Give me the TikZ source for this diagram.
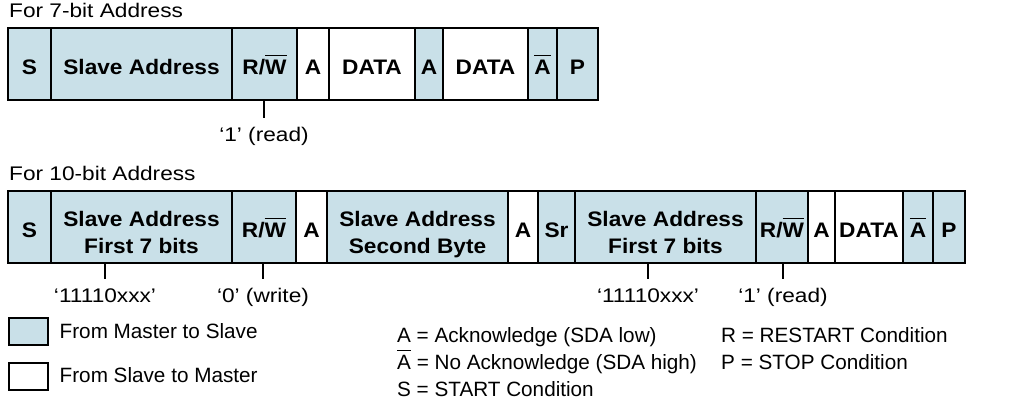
\documentclass[tikz,border=0pt]{standalone}
\usepackage{fontspec}
\setmainfont{Liberation Sans}
\newfontfamily\widesf{Liberation Sans}[FakeStretch=1.15]
\newfontfamily\boxsf{Liberation Sans}[FakeStretch=1.08]
\definecolor{msblue}{RGB}{201,224,232}
\newsavebox\ovlbox
\newcommand{\ovl}[1]{\sbox\ovlbox{#1}\rlap{\rule[0.86em]{\wd\ovlbox}{0.075em}}\usebox\ovlbox}
\newcommand{\twoline}[2]{\rule{0pt}{32.5pt}#1\\#2\rule[-6pt]{0pt}{6pt}}
\tikzset{
  fld/.style={draw, line width=2pt, minimum height=72pt, inner sep=0pt, align=center,
    font=\boxsf\bfseries\fontsize{21}{27.5}\selectfont},
  oneln/.style={text height=21pt, text depth=0pt},
  ms/.style={fld, fill=msblue},
  sm/.style={fld, fill=white},
  hint/.style={inner sep=0pt, text height=14.2pt, text depth=0pt,
    font=\widesf\fontsize{19.7}{24}\selectfont},
  legtxt/.style={inner sep=0pt, anchor=west, text height=14.9pt, text depth=0pt,
    font=\fontsize{20.7}{25}\selectfont},
  legbox/.style={draw, line width=2pt, minimum width=39pt, minimum height=27pt, inner sep=0pt},
  tickln/.style={line width=2pt, shorten >=9pt},
}
\begin{document}
\begin{tikzpicture}[x=1pt,y=-1pt]
\useasboundingbox (0,0) rectangle (1025,403);

% 7-bit address
\node [hint, anchor=west] (t7) at (9,10.8) {For 7-bit Address};
\node [ms, oneln, minimum width=43] (s1) at (29.5,64) {S};
\node [ms, oneln, minimum width=181] (addr1) at (141.5,64) {Slave Address};
\node [ms, oneln, minimum width=65] (rw1) at (264.5,64) {R/\ovl{W}};
\node [sm, oneln, minimum width=32] (ack1) at (313,64) {A};
\node [sm, oneln, minimum width=86] (data1) at (372,64) {DATA};
\node [ms, oneln, minimum width=28] (ack2) at (429,64) {A};
\node [sm, oneln, minimum width=85] (data2) at (485.5,64) {DATA};
\node [ms, oneln, minimum width=29] (nack1) at (542.5,64) {\ovl{A}};
\node [ms, oneln, minimum width=41] (p1) at (577.5,64) {P};
\node [hint, anchor=north] (rd1) at (264,127) {‘1’ (read)};
\draw [tickln] (rw1.south -| rd1.north) -- (rd1.north);

% 10-bit address
\node [hint, anchor=west] (t10) at (9,173.7) {For 10-bit Address};
\node [ms, oneln, minimum width=43] (s2) at (29.5,227) {S};
\node [ms, minimum width=181] (hi2) at (141.5,227) {\twoline{Slave Address}{First 7 bits}};
\node [ms, oneln, minimum width=64] (rw2) at (264,227) {R/\ovl{W}};
\node [sm, oneln, minimum width=31] (ack3) at (311.5,227) {A};
\node [ms, minimum width=181] (lo2) at (417.5,227) {\twoline{Slave Address}{Second Byte}};
\node [sm, oneln, minimum width=30] (ack4) at (523,227) {A};
\node [ms, oneln, minimum width=37] (sr2) at (556.5,227) {Sr};
\node [ms, minimum width=181] (hi3) at (665.5,227) {\twoline{Slave Address}{First 7 bits}};
\node [ms, oneln, minimum width=52] (rw3) at (782,227) {R/\ovl{W}};
\node [sm, oneln, minimum width=27] (ack5) at (821.5,227) {A};
\node [sm, oneln, minimum width=68] (data3) at (869,227) {DATA};
\node [ms, oneln, minimum width=30] (nack2) at (918,227) {\ovl{A}};
\node [ms, oneln, minimum width=32] (p2) at (949,227) {P};

\node [hint, anchor=north] (hb1) at (105,288.5) {‘11110xxx’};
\node [hint, anchor=north] (wr2) at (263,288.5) {‘0’ (write)};
\node [hint, anchor=north] (hb2) at (648,288.5) {‘11110xxx’};
\node [hint, anchor=north] (rd2) at (783,288.5) {‘1’ (read)};
\draw [tickln] (hi2.south -| hb1.north) -- (hb1.north);
\draw [tickln] (rw2.south -| wr2.north) -- (wr2.north);
\draw [tickln] (hi3.south -| hb2.north) -- (hb2.north);
\draw [tickln] (rw3.south -| rd2.north) -- (rd2.north);

% legend
\node [legbox, fill=msblue] (kms) at (28.7,331.5) {};
\node [legbox, fill=white] (ksm) at (28.7,376.5) {};
\node [legtxt] (tms) at (59.5,331) {From Master to Slave};
\node [legtxt] (tsm) at (59.5,375.5) {From Slave to Master};
\node [legtxt] (kack) at (397,335) {A = Acknowledge (SDA low)};
\node [legtxt] (knack) at (397,361.7) {\ovl{A} = No Acknowledge (SDA high)};
\node [legtxt] (kst) at (397,389) {S = START Condition};
\node [legtxt] (krs) at (721,335) {R = RESTART Condition};
\node [legtxt] (ksp) at (721,362) {P = STOP Condition};
\end{tikzpicture}
\end{document}
